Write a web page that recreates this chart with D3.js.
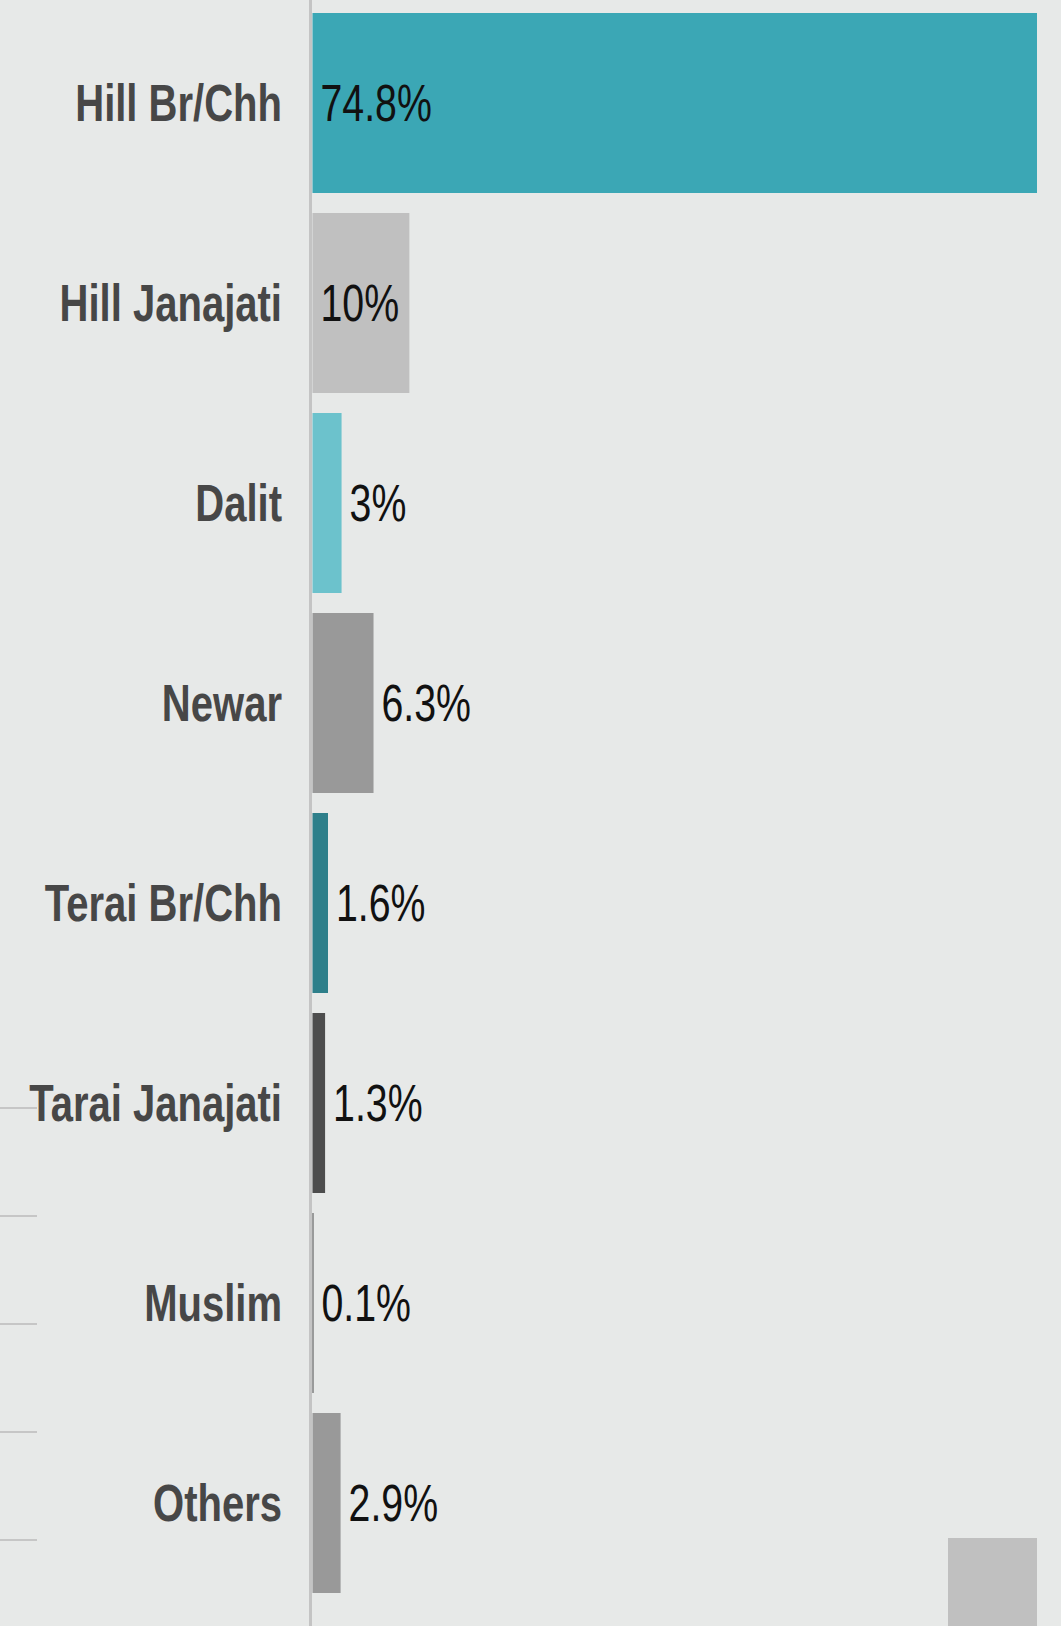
<!DOCTYPE html>
<html>
<head>
<meta charset="utf-8">
<script src="https://cdn.jsdelivr.net/npm/d3@7"></script>
<style>
  html, body { margin: 0; padding: 0; background: #e7e9e8; }
  svg { display: block; }
</style>
</head>
<body>
<script>
// ---- data ----
const categories = ["Hill Br/Chh", "Hill Janajati", "Dalit", "Newar", "Terai Br/Chh", "Tarai Janajati", "Muslim", "Others"];
const values = [74.8, 10, 3, 6.3, 1.6, 1.3, 0.1, 2.9];
const valueLabels = ["74.8%", "10%", "3%", "6.3%", "1.6%", "1.3%", "0.1%", "2.9%"];
const colors = ["#3ba7b5", "#c0c0c0", "#6cc2cc", "#999999", "#2e7f8a", "#4d4d4d", "#4d4d4d", "#999999"];
const ghostTicks = [0, 1, 2, 3, 4];

const W = 1061, H = 1626;
const FONT = "'Liberation Sans', Arial, sans-serif";
const SX = 0.77;    // horizontal squeeze to emulate a narrow face (values)
const SXB = 0.785;  // squeeze for bold category labels
const FS = 51;

const svg = d3.select("body").append("svg").attr("width", W).attr("height", H);
svg.append("rect").attr("width", W).attr("height", H).attr("fill", "#e7e9e8");

const axisX = 310.5;
const x = d3.scaleLinear().domain([0, d3.max(values)]).range([312.5, 1037]);
const y = d3.scaleBand().domain(categories).range([3, 3 + 200 * categories.length]).paddingInner(0.1).paddingOuter(0.05);

// ghost gridlines at left (from underlying element)
const gy = d3.scaleLinear().domain([0, 4]).range([1108, 1540]);
svg.append("g").selectAll("line").data(ghostTicks).join("line")
  .attr("x1", 0).attr("x2", 37)
  .attr("y1", d => gy(d)).attr("y2", d => gy(d))
  .attr("stroke", "#c6c6c6").attr("stroke-width", 2);

// bars
svg.append("g").selectAll("rect").data(categories).join("rect")
  .attr("x", x(0))
  .attr("y", d => y(d))
  .attr("width", (d, i) => Math.max(1, x(values[i]) - x(0)))
  .attr("height", y.bandwidth())
  .attr("fill", (d, i) => colors[i]);

// axis line
svg.append("line").attr("x1", axisX).attr("x2", axisX).attr("y1", 0).attr("y2", H)
  .attr("stroke", "#c4c4c4").attr("stroke-width", 3);

// category labels
svg.append("g").selectAll("text").data(categories).join("text")
  .attr("transform", d => `translate(282,${y(d) + y.bandwidth() / 2}) scale(${SXB},1)`)
  .attr("dy", "0.36em")
  .attr("text-anchor", "end")
  .attr("font-family", FONT)
  .attr("font-weight", "bold")
  .attr("font-size", FS)
  .attr("fill", "#474747")
  .text(d => d);

// value labels
const vl = svg.append("g").selectAll("text").data(categories).join("text")
  .attr("dy", "0.36em")
  .attr("font-family", FONT)
  .attr("font-size", FS)
  .attr("fill", "#111")
  .text((d, i) => valueLabels[i]);
vl.each(function(d, i) {
  const tw = this.getComputedTextLength() * SX;
  const bw = x(values[i]) - x(0);
  const xi = bw > tw + 16 ? x(0) + 8 : x(values[i]) + 8;
  d3.select(this).attr("transform", `translate(${xi},${y(d) + y.bandwidth() / 2}) scale(${SX},1)`);
});

// partial element at bottom right
svg.append("rect").attr("x", 948).attr("y", 1538).attr("width", 89).attr("height", H - 1538).attr("fill", "#c0c0c0");
</script>
</body>
</html>
